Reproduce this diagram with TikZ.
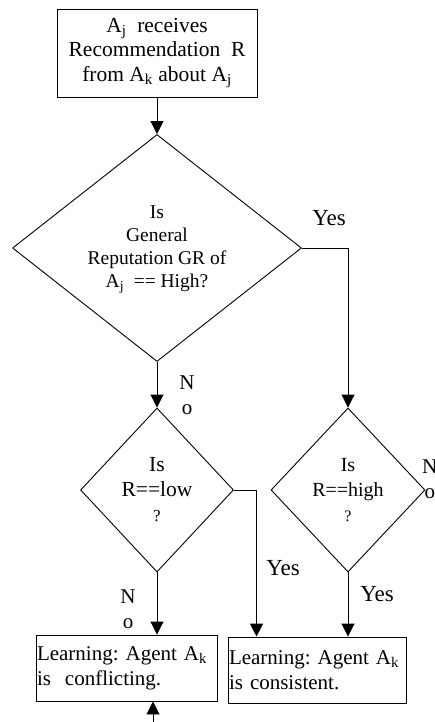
\documentclass[tikz,border=0pt]{standalone}
\usepackage{fontspec}
\setmainfont{Liberation Serif}
\usetikzlibrary{shapes.geometric, arrows.meta}
\frenchspacing

\begin{document}
\begin{tikzpicture}[
    x=1pt, y=-1pt,
    flow/.style={
        line width=0.9pt, -{Triangle[length=13pt, width=13pt]}
    },
    procbox/.style={
        draw, line width=0.9pt, align=center, inner sep=2pt,
        font=\fontsize{21.5}{24.5}\selectfont
    },
    resultbox/.style={
        draw, line width=0.9pt, align=left, inner sep=1pt,
        minimum height=66pt, text width=#1,
        font=\fontsize{21}{25}\selectfont
    },
    decision/.style={
        diamond, draw, line width=0.9pt, align=center, inner sep=0pt,
        font=\fontsize{21.5}{25}\selectfont
    },
    yeslbl/.style={
        font=\fontsize{23}{26}\selectfont, inner sep=0pt
    },
    nolbl/.style={
        font=\fontsize{21}{25}\selectfont, align=center, inner sep=0pt
    }
]

% Page frame: 435 x 722, y runs downward
\useasboundingbox (0,0) rectangle (435,722);
\clip (0,0) rectangle (435,722);

% -- Steps --
\node[procbox, minimum width=200pt, minimum height=88pt] (recv) at (157,53)
    {A\textsubscript{j}\ \ receives\\Recommendation\ \ R\\from A\textsubscript{k} about A\textsubscript{j}};

% General reputation test (text sits a little above the centre)
\node[decision, minimum width=289pt, minimum height=227pt, aspect=1.3,
      font=\fontsize{19.5}{23}\selectfont] (grhigh) at (157,248)
    {\raisebox{6pt}{\begin{tabular}{@{}c@{}}Is\\General\\Reputation GR of\\A\textsubscript{j}\ \ == High?\end{tabular}}};

% Recommendation tests
\node[decision, minimum width=153pt, minimum height=164pt] (rlow) at (157,490)
    {Is\\R==low\\{\fontsize{17}{18}\selectfont ?}};
\node[decision, minimum width=154pt, minimum height=164pt,
      font=\fontsize{20}{25}\selectfont] (rhigh) at (348,490)
    {Is\\R==high\\{\fontsize{16}{18}\selectfont ?}};

% Learning outcomes
\node[resultbox=179pt] (confl) at (126.5,668)
    {Learning: Agent A\textsubscript{k}\\is\ \ conflicting.};
\node[resultbox=176pt] (consis) at (317,670)
    {Learning: Agent A\textsubscript{k}\\is consistent.};

% -- Connectors --
\draw[flow] (recv.south) -- (grhigh.north);
\draw[flow] (grhigh.south) -- (rlow.north);
\draw[flow] (grhigh.east) -| (rhigh.north);
\draw[flow] (rlow.east) -| ([xshift=29pt]consis.north west);
\draw[flow] (rhigh.south) -- (rhigh.south |- consis.north);
\draw[flow] (rlow.south) -- (rlow.south |- confl.north);

% incoming from below the page
\coordinate (loopin) at (153,730);
\draw[flow] (loopin) -- (loopin |- confl.south);

% -- Branch labels --
\node[yeslbl] (yes1) at (329,218) {Yes};
\node[yeslbl] (yes2) at (283,568) {Yes};
\node[yeslbl] (yes3) at (377,594) {Yes};
\node[nolbl] (no1) at (187,395) {N\\o};
\node[nolbl] (no2) at (128,609) {N\\o};
\node[nolbl, anchor=west] (no3) at (422,479) {N\\o};

\end{tikzpicture}
\end{document}
